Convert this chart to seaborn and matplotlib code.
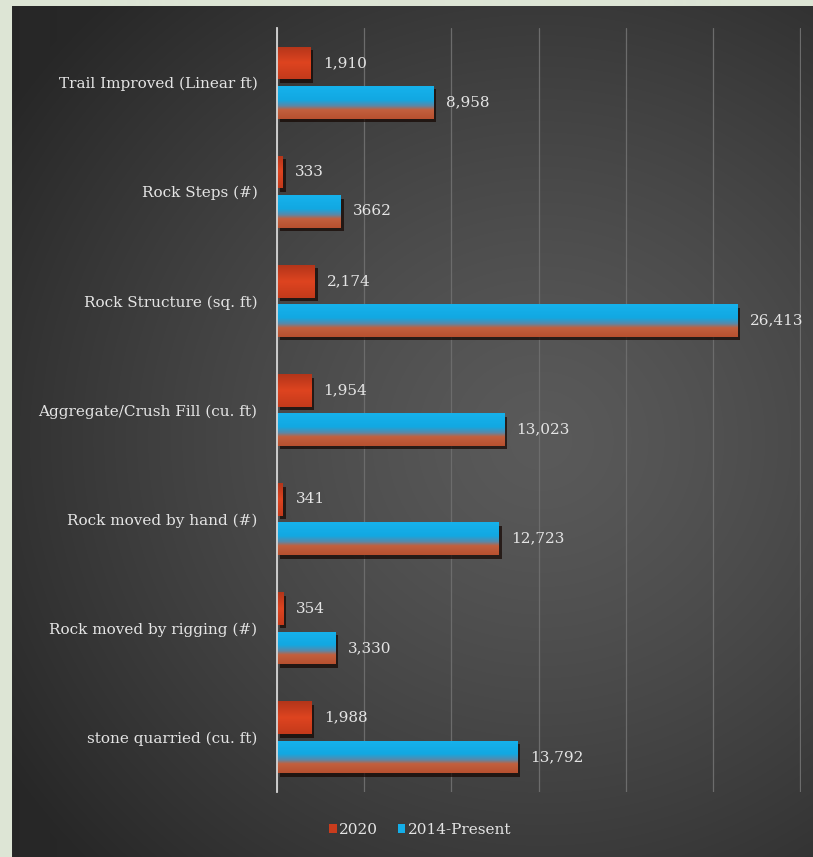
import numpy as np
import pandas as pd
import matplotlib
matplotlib.use("Agg")
import matplotlib.pyplot as plt
import matplotlib.patheffects as pe
import seaborn as sns

# ---------------- data ----------------
categories = [
    "Trail Improved (Linear ft)",
    "Rock Steps (#)",
    "Rock Structure (sq. ft)",
    "Aggregate/Crush Fill (cu. ft)",
    "Rock moved by hand (#)",
    "Rock moved by rigging (#)",
    "stone quarried (cu. ft)",
]
series_names = ["2020", "2014-Present"]
values_2020 = [1910, 333, 2174, 1954, 341, 354, 1988]
values_total = [8958, 3662, 26413, 13023, 12723, 3330, 13792]
labels_2020 = ["1,910", "333", "2,174", "1,954", "341", "354", "1,988"]
labels_total = ["8,958", "3662", "26,413", "13,023", "12,723", "3,330", "13,792"]
x_ticks = [0, 5000, 10000, 15000, 20000, 25000, 30000]

df = pd.DataFrame({
    "category": categories + categories,
    "series": [series_names[0]] * len(categories) + [series_names[1]] * len(categories),
    "value": values_2020 + values_total,
})

# ---------------- style ----------------
sns.set_theme(style="dark")
plt.rcParams["font.family"] = ["DejaVu Serif"]
TXT = "#e4e4e4"
C2020 = "#c93c1d"
CTOT = "#14aee8"

W, H = 813, 857
fig = plt.figure(figsize=(W / 100, H / 100), dpi=100)

# background panel with soft radial gradient and light green frame
bg = fig.add_axes([0, 0, 1, 1], zorder=-10)
yy, xx = np.mgrid[0:H, 0:W]
r = np.sqrt((xx - 540.0) ** 2 + ((yy - 440.0) * 1.05) ** 2) / 640.0
t = np.clip(r, 0, 1) ** 1.3
light = np.array([0x5a, 0x5a, 0x5a]) / 255
dark = np.array([0x27, 0x27, 0x27]) / 255
img = light * (1 - t[..., None]) + dark * t[..., None]
green = np.array([0xdd, 0xe5, 0xd5]) / 255
img[:6, :] = green
img[:, :12] = green
bg.imshow(img, aspect="auto", interpolation="bilinear")
bg.axis("off")

ax = fig.add_axes([277 / W, 1 - 792 / H, (801 - 277) / W, (792 - 28) / H])
ax.set_facecolor("none")

sns.barplot(
    data=df, y="category", x="value", hue="series",
    order=categories, hue_order=series_names,
    palette=[C2020, CTOT], saturation=1, errorbar=None,
    width=0.72, gap=0.17, orient="h", ax=ax,
)

ax.set_xlim(0, 30050)
ax.set_xticks(x_ticks)
ax.set_xlabel("")
ax.set_ylabel("")
ax.tick_params(axis="x", length=0, labelbottom=False)
ax.tick_params(axis="y", length=0, pad=14, labelcolor=TXT, labelsize=11)
ax.grid(axis="x", color="#6c6c6c", lw=0.9)
ax.grid(axis="y", visible=False)
ax.set_axisbelow(True)
for s in ["top", "right", "bottom"]:
    ax.spines[s].set_visible(False)
ax.spines["left"].set_color("#d6d6d6")
ax.spines["left"].set_linewidth(1.3)
ax.spines["left"].set_zorder(5)

# gradient fills clipped to bars
def hexrgb(h):
    h = h.lstrip("#")
    return np.array([int(h[i:i + 2], 16) for i in (0, 2, 4)]) / 255

def gradient(stops, n=120):
    pos = np.array([s[0] for s in stops])
    cols = np.array([hexrgb(s[1]) for s in stops])
    f = np.linspace(0, 1, n)
    return np.stack([np.interp(f, pos, cols[:, k]) for k in range(3)], axis=1)

grad_2020 = gradient([(0, "#b3351a"), (0.5, "#de4420"), (1, "#c43a1b")])
grad_tot = gradient([(0, "#16b2ec"), (0.42, "#12a8e2"), (0.6, "#5a88a8"),
                     (0.72, "#c2603e"), (1, "#b8502f")])

xl, yl = ax.get_xlim(), ax.get_ylim()
ax.set_autoscale_on(False)
for cont, grad in zip(ax.containers, [grad_2020, grad_tot]):
    for p in cont.patches:
        x0, y0, w, h = p.get_x(), p.get_y(), p.get_width(), p.get_height()
        p.set_edgecolor("none")
        p.set_path_effects([
            pe.SimplePatchShadow(offset=(2, -2.5), shadow_rgbFace=(0.08, 0.02, 0.0), alpha=0.7),
            pe.Normal(),
        ])
        im = ax.imshow(grad[:, None, :], extent=(x0, x0 + w, y0 + h, y0),
                       origin="upper", aspect="auto", interpolation="bilinear",
                       zorder=p.get_zorder() + 0.01)
        im.set_clip_path(p)
ax.set_xlim(xl)
ax.set_ylim(yl)

ax.bar_label(ax.containers[0], labels=labels_2020, padding=9, color=TXT, fontsize=11)
ax.bar_label(ax.containers[1], labels=labels_total, padding=9, color=TXT, fontsize=11)

handles, labels = ax.get_legend_handles_labels()
if ax.get_legend() is not None:
    ax.get_legend().remove()
for hd in handles:
    hd.set_edgecolor("none")
leg = fig.legend(handles, labels, loc="center", bbox_to_anchor=(420 / W, 1 - 830 / H),
                 ncol=2, frameon=False, fontsize=11, handlelength=0.5, handleheight=0.5,
                 handletextpad=0.15, columnspacing=1.3, labelcolor=TXT)

fig.savefig("out.png", dpi=100)
